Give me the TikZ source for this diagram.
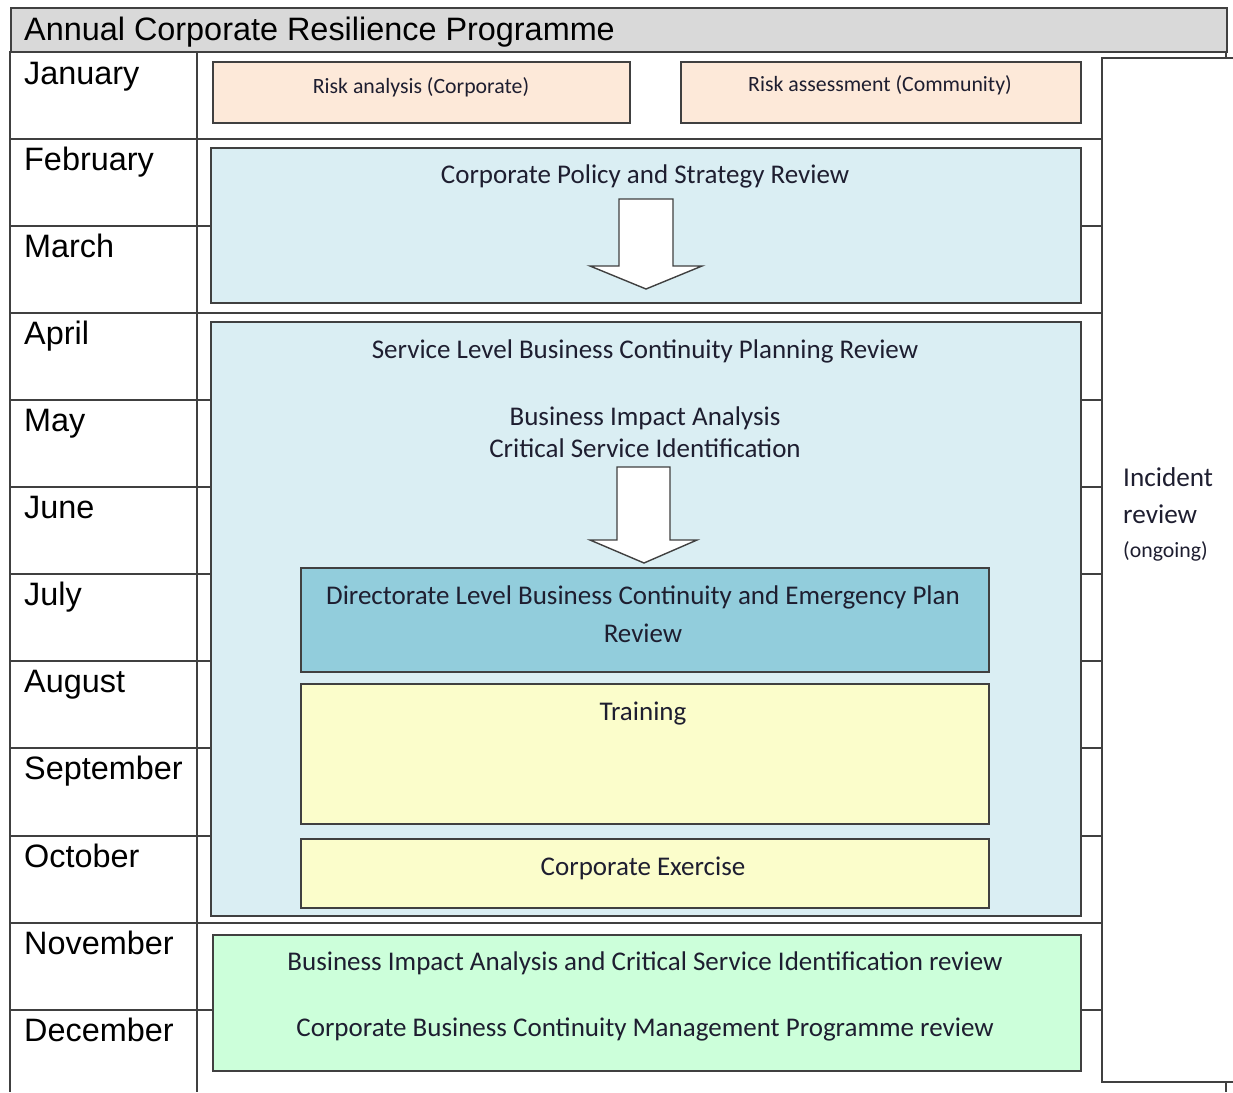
\documentclass[tikz,border=0pt]{standalone}
\usepackage{fontspec}
\setmainfont{Liberation Sans}
\newfontfamily\boxfont{Carlito}
\definecolor{hdr}{HTML}{D9D9D9}
\definecolor{peach}{HTML}{FDE9D9}
\definecolor{lblue}{HTML}{DAEEF3}
\definecolor{aqua}{HTML}{92CDDC}
\definecolor{lyellow}{HTML}{FBFDCB}
\definecolor{mint}{HTML}{CCFFDA}
\definecolor{gridc}{HTML}{404040}
\definecolor{txt}{HTML}{1E1E30}
\begin{document}
\begin{tikzpicture}[x=1pt,y=-1pt,
  gridline/.style={draw=gridc, line width=1.8pt},
  phase/.style={draw=gridc, line width=1.6pt, rectangle, inner sep=0pt, anchor=north west},
  month/.style={anchor=base west, inner sep=0pt, font=\fontsize{32.4}{38}\selectfont},
  btext/.style={anchor=base, inner sep=0pt, text=txt, font=\boxfont\fontsize{27}{32}\selectfont},
  stext/.style={anchor=base, inner sep=0pt, text=txt, font=\boxfont\fontsize{21.8}{26}\selectfont},
  inctext/.style={anchor=base west, inner sep=0pt, text=txt, font=\boxfont\fontsize{27.2}{32}\selectfont},
  blockarrow/.style={draw=gridc, line width=1.4pt, fill=white, line join=miter}]
\useasboundingbox (0,0) rectangle (1233,1092);
% title bar
\node[phase, fill=hdr, draw=gridc, minimum width=1216pt, minimum height=44pt, line width=1.8pt] (title) at (10,7) {};
\node[anchor=base west, inner sep=0pt, font=\fontsize{32.4}{38}\selectfont] (titletext) at (24,40) {Annual Corporate Resilience Programme};
% table frame
\draw[gridline] (10,51) -- (10,1092);
\draw[gridline] (197,51) -- (197,1092);
\draw[gridline] (1226,51) -- (1226,58);
\draw[gridline] (1226,1082) -- (1226,1092);
\foreach \yy in {139,226,313,400,487,574,661,748,836,923,1010}
  \draw[gridline] (10,\yy) -- (1102,\yy);
% incident review column
\draw[gridline] (1233,58) -- (1102,58) -- (1102,1082) -- (1233,1082);
% months
\node[month] (jan) at (24,84) {January};
\node[month] (feb) at (24,170) {February};
\node[month] (mar) at (24,257) {March};
\node[month] (apr) at (24,344) {April};
\node[month] (may) at (24,431) {May};
\node[month] (jun) at (24,518) {June};
\node[month] (jul) at (24,605) {July};
\node[month] (aug) at (24,692) {August};
\node[month] (sep) at (24,779) {September};
\node[month] (oct) at (24,867) {October};
\node[month] (nov) at (24,954) {November};
\node[month] (dec) at (24,1041) {December};
% January boxes
\node[phase, fill=peach, minimum width=417pt, minimum height=61pt] (ra) at (212,61) {};
\node[stext] (ratext) at (421,93) {Risk analysis (Corporate)};
\node[phase, fill=peach, minimum width=400pt, minimum height=61pt] (rc) at (680,61) {};
\node[stext] (rctext) at (880,91) {Risk assessment (Community)};
% policy review
\node[phase, fill=lblue, minimum width=870pt, minimum height=155pt] (policy) at (210,147) {};
\node[btext] (policytext) at (645,183) {Corporate Policy and Strategy Review};
\draw[blockarrow] (619,199) -- (673,199) -- (673,266) -- (702,266) -- (646,289) -- (590,266) -- (619,266) -- cycle;
% service level review
\node[phase, fill=lblue, minimum width=870pt, minimum height=594pt] (service) at (210,321) {};
\node[btext] (servicetext) at (645,358) {Service Level Business Continuity Planning Review};
\node[btext] (bia) at (645,425) {Business Impact Analysis};
\node[btext] (csi) at (645,457) {Critical Service Identification};
\draw[blockarrow] (617,467) -- (670,467) -- (670,540) -- (697,540) -- (644,563) -- (590,540) -- (617,540) -- cycle;
% directorate
\node[phase, fill=aqua, minimum width=688pt, minimum height=104pt] (dir) at (300,567) {};
\node[btext] (dirtext1) at (643,604) {Directorate Level Business Continuity and Emergency Plan};
\node[btext] (dirtext2) at (643,642) {Review};
% training
\node[phase, fill=lyellow, minimum width=688pt, minimum height=140pt] (train) at (300,683) {};
\node[btext] (traintext) at (643,720) {Training};
% exercise
\node[phase, fill=lyellow, minimum width=688pt, minimum height=69pt] (exer) at (300,838) {};
\node[btext] (exertext) at (643,875) {Corporate Exercise};
% November-December
\node[phase, fill=mint, minimum width=868pt, minimum height=136pt] (nd) at (212,934) {};
\node[btext] (ndtext1) at (645,970) {Business Impact Analysis and Critical Service Identification review};
\node[btext] (ndtext2) at (645,1036) {Corporate Business Continuity Management Programme review};
% incident review
\node[inctext] (inc1) at (1123,486) {Incident};
\node[inctext] (inc2) at (1123,523) {review};
\node[inctext, font=\boxfont\fontsize{21.8}{26}\selectfont] (inc3) at (1123,557) {(ongoing)};
\end{tikzpicture}
\end{document}
